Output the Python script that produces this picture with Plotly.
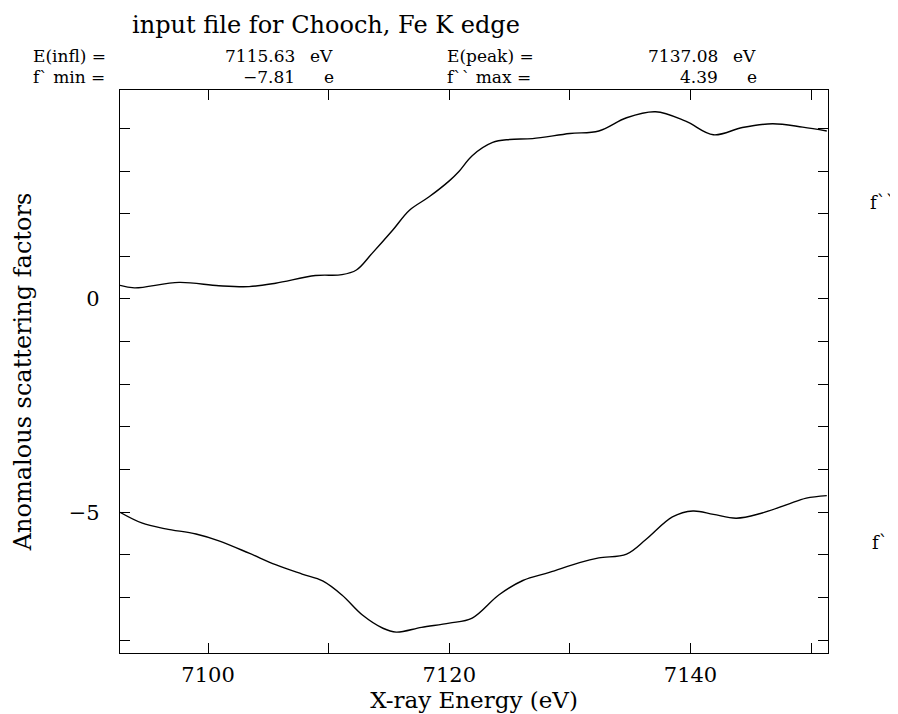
import plotly.graph_objects as go

# ---- data ----
energy_fpp = [7092.7, 7093.9, 7097.6, 7100.9, 7103.4, 7105.6, 7108.9, 7111.1, 7112.3,
              7113.6, 7115.3, 7116.7, 7118.3, 7120.0, 7120.8, 7121.9, 7123.6, 7125.0,
              7126.9, 7130.0, 7132.4, 7134.7, 7137.1, 7139.6, 7141.9, 7144.3, 7146.8,
              7149.3, 7151.3]
fpp = [0.32, 0.26, 0.39, 0.31, 0.29, 0.37, 0.55, 0.57, 0.68,
       1.07, 1.61, 2.08, 2.39, 2.77, 2.99, 3.36, 3.67, 3.74,
       3.76, 3.88, 3.94, 4.25, 4.39, 4.17, 3.85, 4.02, 4.11,
       4.03, 3.94]

energy_fp = [7092.7, 7094.5, 7096.5, 7099.0, 7100.9, 7103.4, 7105.6, 7107.8, 7109.5,
             7111.1, 7112.8, 7114.5, 7115.6, 7117.7, 7120.0, 7121.9, 7124.1, 7126.1,
             7128.3, 7130.8, 7132.4, 7134.7, 7136.3, 7138.5, 7140.2, 7141.9, 7143.8,
             7145.8, 7148.0, 7149.6, 7151.3]
fp = [-5.00, -5.25, -5.39, -5.51, -5.67, -5.96, -6.23, -6.45, -6.61,
      -6.94, -7.41, -7.72, -7.81, -7.70, -7.60, -7.48, -6.94, -6.60,
      -6.41, -6.18, -6.07, -5.98, -5.64, -5.11, -4.97, -5.05, -5.14,
      -5.03, -4.82, -4.67, -4.61]

x_tickvals = [7100, 7110, 7120, 7130, 7140, 7150]
x_ticktext = ["7100", "", "7120", "", "7140", ""]
y_tickvals = [-8, -7, -6, -5, -4, -3, -2, -1, 0, 1, 2, 3, 4]
y_ticktext = ["", "", "", "\u22125", "", "", "", "", "0", "", "", "", ""]

title_text = "input file for Chooch, Fe K edge"
e_infl = "7115.63"
e_peak = "7137.08"
fp_min = "\u22127.81"
fpp_max = "4.39"

# ---- layout geometry (page body adds an 8px offset) ----
OFF = 8
W, H = 898 - OFF, 714 - OFF
L, R, T, B = 120 - OFF, 70, 90 - OFF, 61
PW, PH = W - L - R, H - T - B
FONT = "DejaVu Serif"


def px(x):
    return (x - OFF - L) / PW


def py(y):
    return (H - B - (y - OFF)) / PH


fig = go.Figure()
fig.add_trace(go.Scatter(x=energy_fpp, y=fpp, mode="lines",
                         line=dict(color="black", width=1.4, shape="spline", smoothing=1.0),
                         hoverinfo="skip", showlegend=False))
fig.add_trace(go.Scatter(x=energy_fp, y=fp, mode="lines",
                         line=dict(color="black", width=1.4, shape="spline", smoothing=1.0),
                         hoverinfo="skip", showlegend=False))

axis_common = dict(showline=True, linecolor="black", linewidth=1.3, mirror="ticks",
                   ticks="inside", ticklen=10, tickwidth=1, tickcolor="black",
                   showgrid=False, zeroline=False, automargin=False,
                   tickfont=dict(family=FONT, size=21, color="black"))

fig.update_xaxes(range=[7092.7, 7151.4], tickmode="array", tickvals=x_tickvals,
                 ticktext=x_ticktext, ticklabelstandoff=3,
                 title=dict(text="X-ray Energy (eV)", font=dict(family=FONT, size=23, color="black"),
                            standoff=5),
                 **axis_common)
fig.update_yaxes(range=[-8.3, 4.9], tickmode="array", tickvals=y_tickvals,
                 ticktext=y_ticktext, ticklabelstandoff=15,
                 title=dict(text="Anomalous scattering factors",
                            font=dict(family=FONT, size=24, color="black"), standoff=30),
                 **axis_common)

annots = []


def add_text(text, x, y, anchor, size=17):
    annots.append(dict(text=text, x=px(x), y=py(y), xref="paper", yref="paper",
                       xanchor=anchor, yanchor="middle", showarrow=False,
                       font=dict(family=FONT, size=size, color="black")))


add_text(title_text, 326, 25, "center", size=24)
add_text("E(infl) =", 31, 56, "left")
add_text(e_infl, 297, 56, "right")
add_text("eV", 308, 56, "left")
add_text("f` min =", 31, 77, "left")
add_text(fp_min, 297, 77, "right")
add_text("e", 322, 77, "left")
add_text("E(peak) =", 445, 56, "left")
add_text(e_peak, 720, 56, "right")
add_text("eV", 731, 56, "left")
add_text("f`` max =", 445, 77, "left")
add_text(fpp_max, 720, 77, "right")
add_text("e", 745, 77, "left")
add_text("f``", 868, 202, "left", size=18)
add_text("f`", 870, 542, "left", size=18)

fig.update_layout(width=W, height=H, margin=dict(l=L, r=R, t=T, b=B, autoexpand=False),
                  paper_bgcolor="white", plot_bgcolor="white",
                  annotations=annots, showlegend=False)

fig.write_html("out.html")
